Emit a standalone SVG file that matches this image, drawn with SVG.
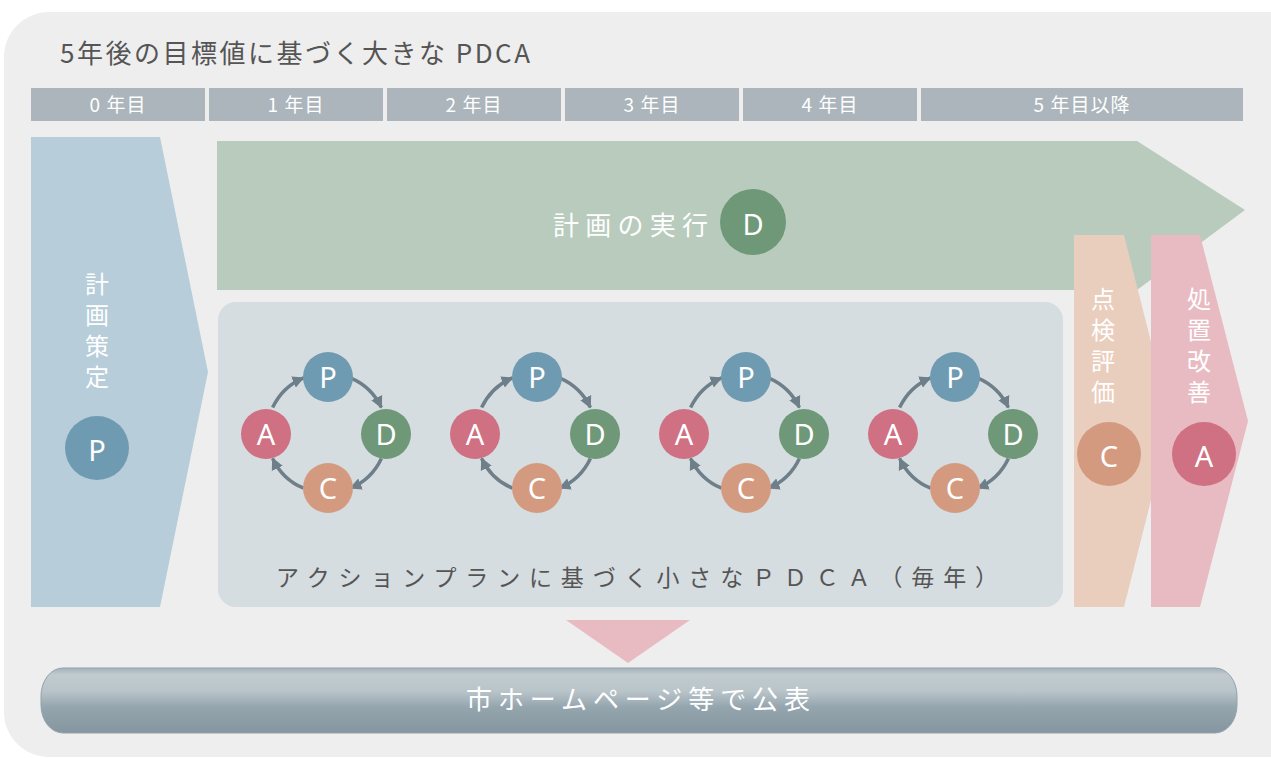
<svg xmlns="http://www.w3.org/2000/svg" width="1271" height="758" viewBox="0 0 1271 758">
<style>
.jp{font-family:"Noto Sans CJK JP","Noto Sans",sans-serif}
.yr{font-family:"Noto Sans CJK JP","Noto Sans",sans-serif;font-size:19px;fill:#fff;text-anchor:middle;letter-spacing:1px}
.vt{font-family:"Noto Sans CJK JP",sans-serif;font-size:24px;fill:#fff;writing-mode:vertical-rl;letter-spacing:7px}
.lt{font-family:"Noto Sans","Noto Sans CJK JP",sans-serif;font-size:29px;fill:#fff;text-anchor:middle}
.hd{fill:#abb5bb}
.arc{fill:none;stroke:#6f7f89;stroke-width:3.5;marker-end:url(#ah)}
.cp{fill:#6f9bb2}.cd{fill:#6e9878}.cc{fill:#d49a80}.ca{fill:#cf7083}
</style>
<defs>
<marker id="ah" markerUnits="userSpaceOnUse" markerWidth="13" markerHeight="13" refX="11" refY="6" orient="auto" viewBox="0 0 13 12">
<path d="M0,0 L12,6 L0,12 z" fill="#6f7f89"/>
</marker>
<linearGradient id="bar" x1="0" y1="0" x2="0" y2="1">
<stop offset="0" stop-color="#a3b1b9"/>
<stop offset="0.1" stop-color="#c0cacf"/>
<stop offset="0.35" stop-color="#bac5ca"/>
<stop offset="0.6" stop-color="#95a5ae"/>
<stop offset="1" stop-color="#8596a0"/>
</linearGradient>
<g id="cyc">
<g id="cyc-conn">
<path class="arc" d="M272.6 407.6 A60 60 0 0 1 303.6 377.8"/>
<path class="arc" d="M350.4 377.8 A60 60 0 0 1 381.4 407.6"/>
<path class="arc" d="M381.4 458.4 A60 60 0 0 1 350.4 488.2"/>
<path class="arc" d="M303.6 488.2 A60 60 0 0 1 272.6 458.4"/>
</g>
<g><circle class="cp" cx="328" cy="377" r="25"/><text class="lt" x="328" y="387.5">P</text></g>
<g><circle class="cd" cx="386" cy="434" r="25"/><text class="lt" x="386" y="444.5">D</text></g>
<g><circle class="cc" cx="328" cy="488" r="25"/><text class="lt" x="328" y="498.5">C</text></g>
<g><circle class="ca" cx="266" cy="434" r="25"/><text class="lt" x="266" y="444.5">A</text></g>
</g>
</defs>
<rect width="1271" height="758" fill="#fff"/>
<rect x="4" y="12" width="1310" height="745" rx="45" fill="#eeeeee"/>
<text class="jp" x="60" y="63" font-size="26" fill="#555" textLength="470" lengthAdjust="spacing">5年後の目標値に基づく大きな PDCA</text>

<g id="years">
<rect class="hd" x="31" y="88" width="174" height="33"/>
<rect class="hd" x="209" y="88" width="174" height="33"/>
<rect class="hd" x="387" y="88" width="174" height="33"/>
<rect class="hd" x="565" y="88" width="174" height="33"/>
<rect class="hd" x="743" y="88" width="174" height="33"/>
<rect class="hd" x="921" y="88" width="322" height="33"/>
<text class="yr" x="118" y="112">0 年目</text>
<text class="yr" x="296" y="112">1 年目</text>
<text class="yr" x="474" y="112">2 年目</text>
<text class="yr" x="652" y="112">3 年目</text>
<text class="yr" x="830" y="112">4 年目</text>
<text class="yr" x="1082" y="112">5 年目以降</text>
</g>

<g id="plan">
<polygon points="31,137 160,137 208,372 160,607 31,607" fill="#b7cdd9"/>
<text class="vt" x="97" y="272">計画策定</text>
<circle cx="97" cy="448" r="32" fill="#6f9bb2"/>
<text class="lt" x="97" y="461" font-size="35">P</text>
</g>

<g id="do">
<polygon points="217,141 1137,141 1245,210 1137,290 217,290" fill="#b8cbbd"/>
<text class="jp" x="553" y="235" font-size="26" fill="#fff" textLength="155" lengthAdjust="spacing">計画の実行</text>
<circle cx="753" cy="222" r="33" fill="#6e9878"/>
<text class="lt" x="753" y="235" font-size="36">D</text>
</g>

<g id="annual">
<rect x="218" y="302" width="845" height="305" rx="18" fill="#d5dde1"/>
<text class="jp" x="276" y="586" font-size="23" fill="#555" textLength="722" lengthAdjust="spacing">アクションプランに基づく小さなＰＤＣＡ（毎年）</text>
</g>

<g id="cycle1"><use href="#cyc"/></g>
<g id="cycle2"><use href="#cyc" transform="translate(209,0)"/></g>
<g id="cycle3"><use href="#cyc" transform="translate(418,0)"/></g>
<g id="cycle4"><use href="#cyc" transform="translate(627,0)"/></g>

<g id="check">
<polygon points="1074,235 1124,235 1171,421 1124,607 1074,607" fill="#e9cdbd"/>
<text class="vt" x="1103" y="287">点検評価</text>
<circle cx="1109" cy="454" r="32" fill="#d49a80"/>
<text class="lt" x="1109" y="467" font-size="36">C</text>
</g>

<g id="act">
<polygon points="1151,235 1200,235 1248,421 1200,607 1151,607" fill="#e8bbc3"/>
<text class="vt" x="1199" y="287">処置改善</text>
<circle cx="1204" cy="454" r="32" fill="#cf7083"/>
<text class="lt" x="1204" y="467" font-size="36">A</text>
</g>

<g id="connectors">
<polygon points="566,620 690,620 628,663" fill="#e8bbc3"/>
</g>

<g id="publish">
<rect x="41" y="668" width="1196" height="65" rx="22" ry="28" fill="url(#bar)" stroke="#93a2aa" stroke-width="1"/>
<text class="jp" x="466" y="709" font-size="26" fill="#fff" textLength="344" lengthAdjust="spacing">市ホームページ等で公表</text>
</g>
</svg>
